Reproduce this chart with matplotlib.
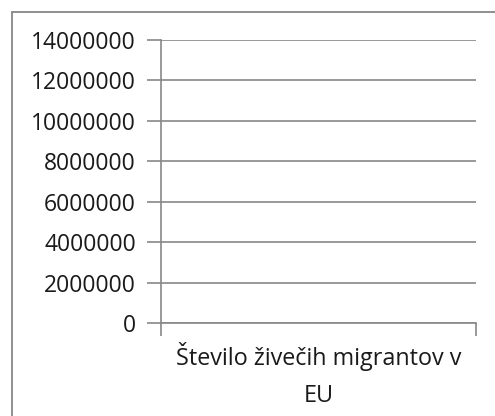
import matplotlib.pyplot as plt
from matplotlib.patches import Rectangle

# Chart data
categories = ['Število živečih migrantov v\nEU']
values = [0]
y_ticks = [0, 2000000, 4000000, 6000000, 8000000, 10000000, 12000000, 14000000]

W, H = 495, 416
fig = plt.figure(figsize=(W / 100, H / 100), dpi=100)
plt.rcParams['font.family'] = ['Open Sans', 'DejaVu Sans']

# outer chart border (cut off on the right and bottom)
fig.patches.append(Rectangle((11.5 / W, -0.1), 1.2, (H - 11.5) / H + 0.1,
                             transform=fig.transFigure, fill=False,
                             edgecolor='#878787', linewidth=1.3))

ax = fig.add_axes([161 / W, (H - 323) / H, (476 - 161) / W, (323 - 40) / H])
grid_c = '#878787'
txt_c = '#1a1a1a'

ax.bar(range(len(categories)), values, width=0.6, color='#4f81bd')
ax.set_xlim(-0.5, len(categories) - 0.5)
ax.set_ylim(0, 14000000)
ax.set_yticks(y_ticks)
ax.set_yticklabels([str(v) for v in y_ticks], fontsize=16.5, color=txt_c)
ax.yaxis.grid(True, color=grid_c, linewidth=1.2)
ax.set_axisbelow(True)

ax.set_xticks(range(len(categories)))
ax.set_xticklabels(categories, fontsize=16.8, color=txt_c, linespacing=1.7)
ax.set_xticks([-0.5, len(categories) - 0.5], minor=True)
ax.tick_params(axis='x', which='major', length=0, pad=14)
ax.tick_params(axis='x', which='minor', length=9, width=1.2, color=grid_c)
ax.tick_params(axis='y', length=10, width=1.2, color=grid_c, pad=8)

for s in ['top', 'right']:
    ax.spines[s].set_visible(False)
ax.spines['left'].set_color(grid_c)
ax.spines['left'].set_linewidth(1.2)
ax.spines['bottom'].set_color(grid_c)
ax.spines['bottom'].set_linewidth(1.2)

fig.savefig('out.png', dpi=100)
